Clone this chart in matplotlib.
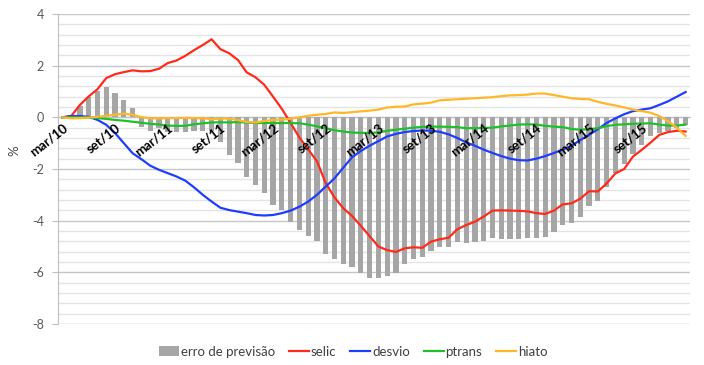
"""
Erro de previsão e contribuições (selic, desvio, ptrans, hiato).
"""

import matplotlib

matplotlib.use("Agg")
import matplotlib.pyplot as plt
from matplotlib.ticker import MultipleLocator

plt.rcParams["font.family"] = ["Lato", "DejaVu Sans"]

# Monthly categories, mar/10 .. fev/16
month_names = ["jan", "fev", "mar", "abr", "mai", "jun",
               "jul", "ago", "set", "out", "nov", "dez"]
months = []
for k in range(72):
    m = (2 + k) % 12
    y = 10 + (2 + k) // 12
    months.append(f"{month_names[m]}/{y:02d}")

erro = [
    0.0, 0.0, 0.45, 0.80, 1.03, 1.18, 0.93, 0.68, 0.38, -0.36,
    -0.51, -0.42, -0.55, -0.57, -0.56, -0.53, -0.54, -0.54, -0.95, -1.44,
    -1.78, -2.31, -2.61, -2.94, -3.39, -3.59, -4.04, -4.38, -4.59, -4.77,
    -5.29, -5.50, -5.68, -5.81, -6.04, -6.20, -6.23, -6.14, -6.04, -5.69,
    -5.48, -5.39, -5.17, -5.01, -5.01, -4.84, -4.85, -4.84, -4.77, -4.67,
    -4.70, -4.72, -4.70, -4.68, -4.66, -4.63, -4.45, -4.18, -4.08, -3.84,
    -3.42, -3.24, -2.71, -2.16, -1.81, -1.41, -1.06, -0.72, -0.59, -0.52,
    -0.42, -0.29,
]

selic = [
    0.0, 0.05, 0.48, 0.81, 1.09, 1.52, 1.67, 1.75, 1.82, 1.78,
    1.79, 1.88, 2.10, 2.20, 2.38, 2.60, 2.80, 3.02, 2.64, 2.48,
    2.22, 1.74, 1.55, 1.26, 0.80, 0.33, -0.22, -0.78, -1.24, -1.70,
    -2.55, -3.10, -3.52, -3.82, -4.20, -4.60, -5.00, -5.14, -5.21, -5.07,
    -5.03, -5.05, -4.81, -4.72, -4.66, -4.33, -4.17, -4.04, -3.84, -3.61,
    -3.60, -3.61, -3.62, -3.64, -3.71, -3.74, -3.61, -3.37, -3.33, -3.15,
    -2.86, -2.87, -2.56, -2.17, -2.00, -1.52, -1.26, -0.98, -0.68, -0.57,
    -0.52, -0.55,
]

desvio = [
    0.0, 0.05, 0.05, 0.02, -0.10, -0.29, -0.61, -1.00, -1.39, -1.62,
    -1.87, -2.03, -2.16, -2.29, -2.45, -2.71, -3.00, -3.26, -3.50, -3.59,
    -3.65, -3.71, -3.78, -3.80, -3.78, -3.71, -3.61, -3.46, -3.26, -3.00,
    -2.68, -2.36, -1.95, -1.55, -1.30, -1.10, -0.92, -0.74, -0.64, -0.57,
    -0.53, -0.51, -0.52, -0.56, -0.66, -0.80, -0.97, -1.10, -1.25, -1.38,
    -1.50, -1.60, -1.66, -1.67, -1.60, -1.50, -1.38, -1.25, -1.10, -0.88,
    -0.68, -0.46, -0.22, -0.04, 0.12, 0.24, 0.30, 0.35, 0.48, 0.62,
    0.80, 0.98,
]

ptrans = [
    0.0, 0.0, 0.0, -0.01, -0.03, -0.06, -0.10, -0.13, -0.17, -0.21,
    -0.25, -0.28, -0.32, -0.33, -0.33, -0.27, -0.23, -0.20, -0.19, -0.20,
    -0.18, -0.20, -0.22, -0.22, -0.22, -0.22, -0.22, -0.23, -0.28, -0.35,
    -0.42, -0.50, -0.55, -0.59, -0.60, -0.61, -0.58, -0.52, -0.48, -0.44,
    -0.40, -0.37, -0.36, -0.36, -0.37, -0.38, -0.42, -0.42, -0.41, -0.40,
    -0.35, -0.32, -0.28, -0.27, -0.28, -0.33, -0.36, -0.38, -0.45, -0.48,
    -0.46, -0.42, -0.34, -0.29, -0.27, -0.25, -0.24, -0.23, -0.28, -0.32,
    -0.32, -0.28,
]

hiato = [
    0.0, -0.04, -0.03, -0.01, 0.02, 0.06, 0.10, 0.14, 0.10, 0.01,
    -0.04, -0.04, -0.03, -0.03, -0.02, -0.03, -0.04, -0.07, -0.05, -0.05,
    -0.11, -0.18, -0.20, -0.14, -0.10, -0.09, -0.05, 0.00, 0.06, 0.10,
    0.13, 0.19, 0.17, 0.20, 0.23, 0.26, 0.30, 0.38, 0.41, 0.42,
    0.50, 0.53, 0.57, 0.66, 0.68, 0.70, 0.72, 0.74, 0.76, 0.78,
    0.82, 0.85, 0.86, 0.88, 0.92, 0.92, 0.86, 0.80, 0.74, 0.71,
    0.70, 0.60, 0.52, 0.46, 0.38, 0.30, 0.24, 0.18, 0.05, -0.15,
    -0.40, -0.72,
]

fig = plt.figure(figsize=(7.04, 3.65), dpi=100)
ax = fig.add_axes([58 / 704, 1 - 324 / 365, 632 / 704, 310 / 365])

x = list(range(len(months)))

bars = ax.bar(x, erro, width=0.6, color="#a6a6a6", label="erro de previsão",
              zorder=2)
l_selic, = ax.plot(x, selic, color="#ff2a1a", lw=1.6, label="selic", zorder=3)
l_desvio, = ax.plot(x, desvio, color="#1f3dff", lw=1.6, label="desvio",
                    zorder=3)
l_ptrans, = ax.plot(x, ptrans, color="#1cc12a", lw=1.6, label="ptrans",
                    zorder=3)
l_hiato, = ax.plot(x, hiato, color="#ffb72a", lw=1.6, label="hiato", zorder=3)

ax.set_xlim(-0.5, len(months) - 0.5)
ax.set_ylim(-8, 4)

# Grid: major every 2, minor every 0.4
ax.yaxis.set_major_locator(MultipleLocator(2))
ax.yaxis.set_minor_locator(MultipleLocator(0.4))
ax.grid(axis="y", which="major", color="#c6c6c6", lw=1.0, zorder=0)
ax.grid(axis="y", which="minor", color="#e4e4e4", lw=1.0, zorder=0)
ax.set_axisbelow(True)
# category labels sit on top of the bars
ax.xaxis.set_zorder(4)

for side in ("top", "right"):
    ax.spines[side].set_visible(False)
ax.spines["left"].set_color("#bfbfbf")
ax.spines["bottom"].set_position(("data", 0))
ax.spines["bottom"].set_color("#bfbfbf")
ax.spines["bottom"].set_zorder(1)

ax.tick_params(axis="y", which="major", length=4, color="#bfbfbf",
               labelsize=9, labelcolor="#595959", pad=6)
ax.tick_params(axis="y", which="minor", length=0)
ax.set_yticks(range(-8, 5, 2))
ax.set_yticklabels([str(v) for v in range(-8, 5, 2)])

ax.set_xticks(x[::6])
ax.set_xticklabels(months[::6], rotation=38, ha="right",
                   rotation_mode="anchor", fontweight="bold", fontsize=9.5)
ax.tick_params(axis="x", length=0, pad=3)

ax.set_ylabel("%", fontsize=9.5, color="#404040")
ax.yaxis.set_label_coords(-0.06, 0.56)

fig.legend(handles=[bars, l_selic, l_desvio, l_ptrans, l_hiato],
           loc="lower center", bbox_to_anchor=(0.502, -0.012), ncol=5,
           frameon=False, fontsize=9.5, handlelength=1.5, handleheight=0.7,
           handletextpad=0.15, columnspacing=1.05, labelcolor="#404040")

fig.savefig("out.png", dpi=100)
